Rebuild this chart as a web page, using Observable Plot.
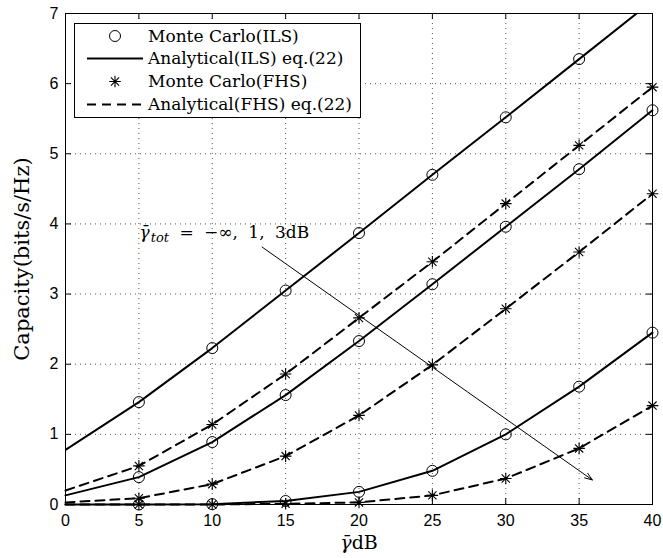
<!DOCTYPE html>
<html><head><meta charset="utf-8">
<script src="https://cdn.jsdelivr.net/npm/d3@7"></script>
<script src="https://cdn.jsdelivr.net/npm/@observablehq/plot@0.6"></script>
<style>body{margin:0;background:#fff} svg{display:block}</style>
</head><body><div id="chart"></div>
<script>
// x: average SNR (dB)
const snr = [0, 5, 10, 15, 20, 25, 30, 35, 40];
// ILS curves (solid, circles) for gamma_tot = -inf, 1, 3 dB
const ilsInf = [0.78, 1.46, 2.23, 3.05, 3.87, 4.70, 5.52, 6.35, 7.18];
const ils1   = [0.13, 0.39, 0.89, 1.56, 2.33, 3.14, 3.96, 4.78, 5.62];
const ils3   = [0.00, 0.00, 0.005, 0.05, 0.18, 0.48, 1.00, 1.68, 2.45];
// FHS curves (dashed, stars)
const fhsInf = [0.20, 0.55, 1.14, 1.86, 2.66, 3.46, 4.29, 5.12, 5.95];
const fhs1   = [0.03, 0.09, 0.29, 0.69, 1.27, 1.99, 2.79, 3.60, 4.43];
const fhs3   = [0.00, 0.00, 0.00, 0.01, 0.03, 0.13, 0.37, 0.80, 1.41];

const xTicks = [0, 5, 10, 15, 20, 25, 30, 35, 40];
const yTicks = [0, 1, 2, 3, 4, 5, 6, 7];
const xLabel = "γ̄dB";
const yLabel = "Capacity(bits/s/Hz)";
const annText = "γ̄tot = −∞, 1, 3dB";
const annPos = [5.05, 3.88];
const arrowFrom = [13.4, 3.67];
const arrowTo = [35.9, 0.35];
const legendItems = ["Monte Carlo(ILS)", "Analytical(ILS) eq.(22)", "Monte Carlo(FHS)", "Analytical(FHS) eq.(22)"];

const toRows = (name, ys) => snr.map((x, i) => ({series: name, x, y: ys[i]}));
const ilsRows = [...toRows("ilsInf", ilsInf), ...toRows("ils1", ils1), ...toRows("ils3", ils3)];
const fhsRows = [...toRows("fhsInf", fhsInf), ...toRows("fhs1", fhs1), ...toRows("fhs3", fhs3)];
const markerFilter = d => d.x > 0 && d.y <= 7;

const star8 = {
  draw(ctx, size) {
    const r = Math.sqrt(size / Math.PI);
    const d = r * Math.SQRT1_2;
    ctx.moveTo(-r, 0); ctx.lineTo(r, 0);
    ctx.moveTo(0, -r); ctx.lineTo(0, r);
    ctx.moveTo(-d, -d); ctx.lineTo(d, d);
    ctx.moveTo(-d, d); ctx.lineTo(d, -d);
  }
};

const W = 663, H = 558, mL = 65, mR = 11, mT = 13, mB = 54;
const iH = H - mT - mB, iW = W - mL - mR;
const serif = "DejaVu Serif";
const sans = "Liberation Sans";

const plot = Plot.plot({
  width: W, height: H,
  marginLeft: mL, marginRight: mR, marginTop: mT, marginBottom: mB,
  style: {background: "#fff", color: "#000"},
  x: {domain: [0, 40]},
  y: {domain: [0, 7]},
  marks: [
    Plot.gridX(xTicks, {stroke: "#555", strokeOpacity: 1, strokeDasharray: "1,4"}),
    Plot.gridY(yTicks, {stroke: "#555", strokeOpacity: 1, strokeDasharray: "1,4"}),
    Plot.tickX(xTicks, {x: d => d, stroke: "#000", insetTop: iH - 6}),
    Plot.tickX(xTicks, {x: d => d, stroke: "#000", insetBottom: iH - 6}),
    Plot.tickY(yTicks, {y: d => d, stroke: "#000", insetRight: iW - 6}),
    Plot.tickY(yTicks, {y: d => d, stroke: "#000", insetLeft: iW - 6}),
    Plot.axisX(xTicks, {tickSize: 0, tickPadding: 10, fontSize: 16, fontFamily: sans, label: null, tickFormat: d3.format("d")}),
    Plot.axisY(yTicks, {tickSize: 0, tickPadding: 7, fontSize: 16, fontFamily: sans, label: null, tickFormat: d3.format("d")}),
    Plot.frame({stroke: "#000", strokeWidth: 1}),
    Plot.line(ilsRows, {filter: d => d.series === "ilsInf", x: "x", y: "y", z: "series", stroke: "#000", strokeWidth: 2, clip: true}),
    Plot.line(ilsRows, {filter: d => d.series !== "ilsInf", x: "x", y: "y", z: "series", stroke: "#000", strokeWidth: 2}),
    Plot.line(fhsRows, {x: "x", y: "y", z: "series", stroke: "#000", strokeWidth: 2, strokeDasharray: "9,6"}),
    Plot.dot(ilsRows, {filter: markerFilter, x: "x", y: "y", r: 5.5, stroke: "#000", strokeWidth: 1, fill: "none"}),
    Plot.dot(fhsRows, {filter: markerFilter, x: "x", y: "y", r: 5.8, symbol: star8, stroke: "#000", strokeWidth: 1.1, fill: "none"}),
    Plot.arrow([0], {x1: () => arrowFrom[0], y1: () => arrowFrom[1], x2: () => arrowTo[0], y2: () => arrowTo[1], stroke: "#000", strokeWidth: 1, headLength: 12, headAngle: 40}),
    Plot.text([annText], {x: () => annPos[0], y: () => annPos[1], text: d => d, textAnchor: "start", lineAnchor: "middle", fontSize: 17, fontFamily: serif, fill: "#000"}),
    Plot.text([yLabel], {frameAnchor: "left", textAnchor: "middle", dx: -43, rotate: -90, text: d => d, fontSize: 21, fontFamily: serif, fill: "#000"}),
    Plot.text([xLabel], {frameAnchor: "bottom", textAnchor: "middle", dy: 44, text: d => d, fontSize: 19, fontFamily: serif, fill: "#000"})
  ]
});

// italic math parts
d3.select(plot).selectAll("text").each(function() {
  const t = d3.select(this);
  if (this.textContent === annText) {
    t.text(null).attr("word-spacing", 5);
    t.append("tspan").attr("font-style", "italic").text("γ̄");
    t.append("tspan").attr("font-style", "italic").attr("font-size", 13).attr("dy", 4).attr("dx", 1).text("tot");
    t.append("tspan").attr("dy", -4).text(" = −∞, 1, 3dB");
  } else if (this.textContent === xLabel) {
    t.text(null);
    t.append("tspan").attr("font-style", "italic").text("γ̄");
    t.append("tspan").text("dB");
  }
});

// legend
const svg = d3.select(plot);
const lg = svg.append("g").attr("font-family", serif).attr("font-size", 17).attr("text-anchor", "start");
lg.append("rect").attr("x", 74.5).attr("y", 23.5).attr("width", 286).attr("height", 94)
  .attr("fill", "#fff").attr("stroke", "#000").attr("stroke-width", 1);
const rowY = [36, 58.5, 81.5, 104.5];
const sx0 = 87, sx1 = 143, sxm = 115, tx = 148;
legendItems.forEach((label, i) => {
  const y = rowY[i];
  if (i === 0) lg.append("circle").attr("cx", sxm).attr("cy", y).attr("r", 5.5).attr("fill", "none").attr("stroke", "#000");
  if (i === 1) lg.append("line").attr("x1", sx0).attr("x2", sx1).attr("y1", y).attr("y2", y).attr("stroke", "#000").attr("stroke-width", 2);
  if (i === 2) lg.append("path").attr("d", d3.symbol(star8, Math.PI * 5.8 * 5.8)()).attr("transform", `translate(${sxm},${y})`).attr("fill", "none").attr("stroke", "#000").attr("stroke-width", 1.1);
  if (i === 3) lg.append("line").attr("x1", sx0).attr("x2", sx1).attr("y1", y).attr("y2", y).attr("stroke", "#000").attr("stroke-width", 2).attr("stroke-dasharray", "9,6");
  lg.append("text").attr("x", tx).attr("y", y).attr("dy", "0.35em").attr("fill", "#000").text(label);
});

document.getElementById("chart").appendChild(plot);
</script>
</body></html>
